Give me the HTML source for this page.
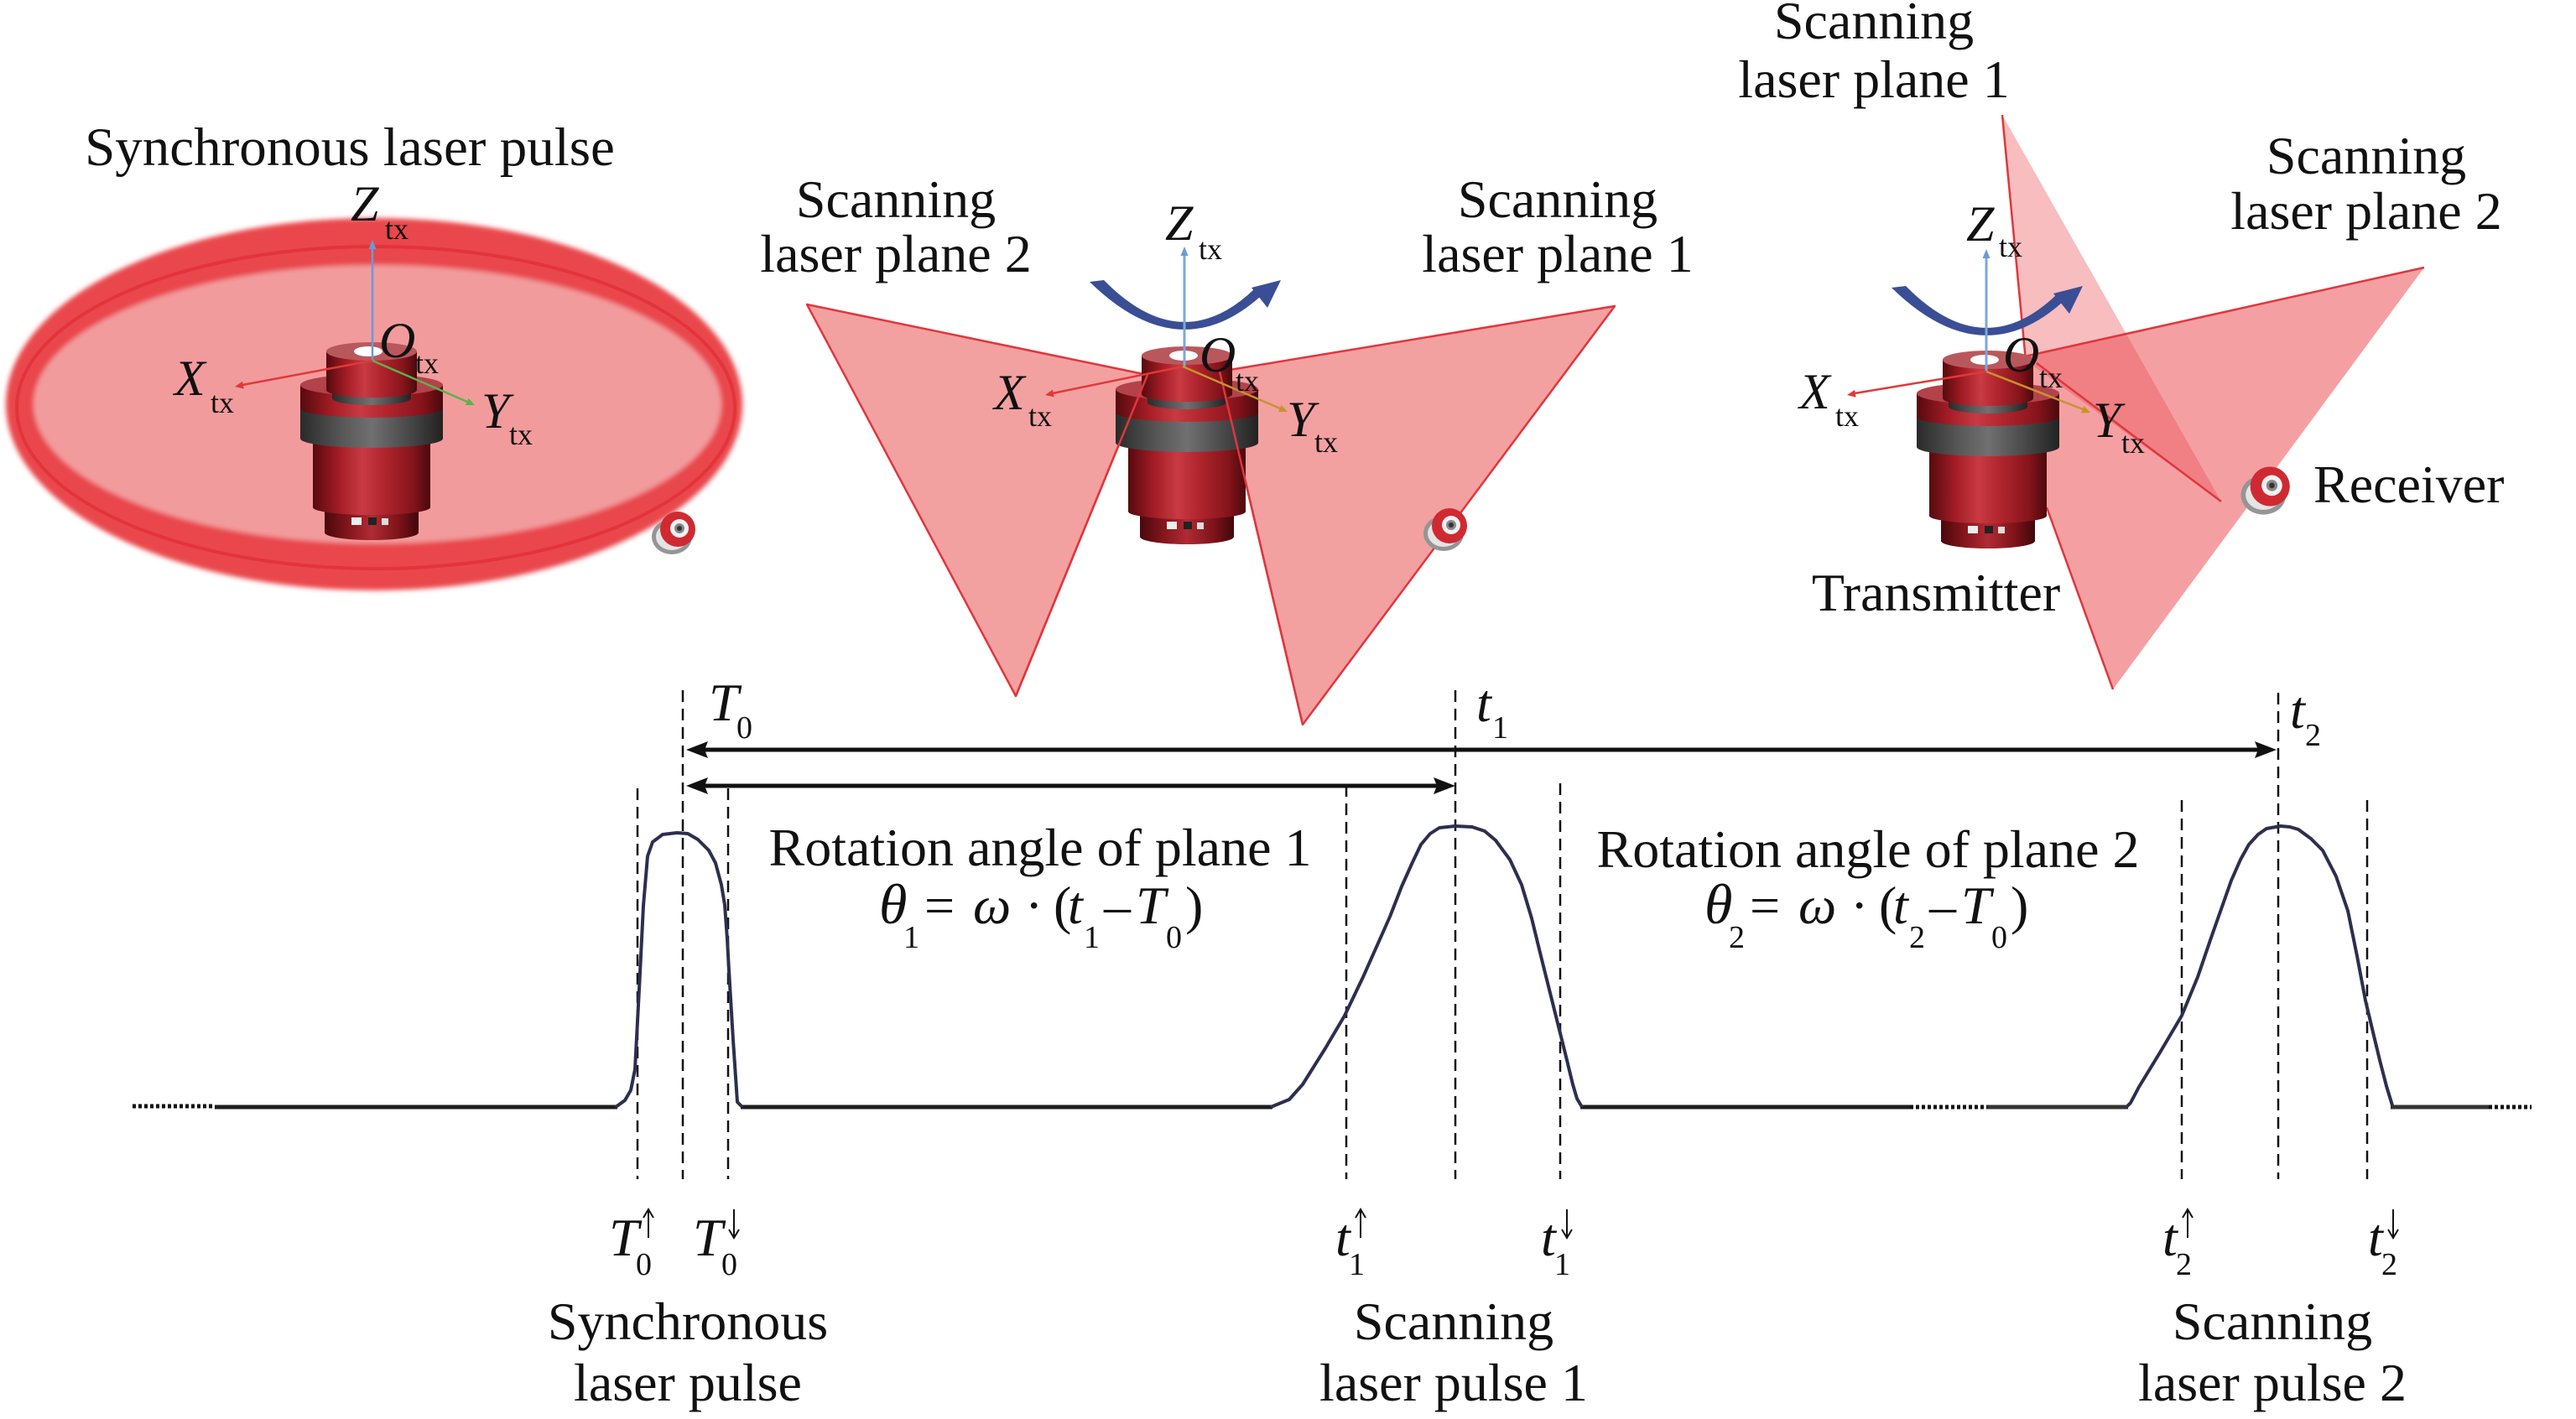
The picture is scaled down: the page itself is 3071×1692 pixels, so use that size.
<!DOCTYPE html>
<html>
<head>
<meta charset="utf-8">
<style>
html,body{margin:0;padding:0;background:#fff;overflow:hidden;}
svg{display:block;}
text{font-family:"Liberation Serif","DejaVu Serif",serif;fill:#111;}
.it{font-style:italic;}
</style>
</head>
<body>
<svg width="3071" height="1692" viewBox="0 0 3071 1692" xmlns="http://www.w3.org/2000/svg">
<defs>
  <linearGradient id="gr" x1="0" x2="1" y1="0" y2="0">
    <stop offset="0" stop-color="#560a0f"/>
    <stop offset="0.22" stop-color="#a31c25"/>
    <stop offset="0.42" stop-color="#c93a43"/>
    <stop offset="0.6" stop-color="#b2252e"/>
    <stop offset="0.85" stop-color="#86141b"/>
    <stop offset="1" stop-color="#4a090d"/>
  </linearGradient>
  <linearGradient id="gr2" x1="0" x2="1" y1="0" y2="0">
    <stop offset="0" stop-color="#4a080c"/>
    <stop offset="0.3" stop-color="#8e1920"/>
    <stop offset="0.5" stop-color="#b02b33"/>
    <stop offset="0.8" stop-color="#7a1218"/>
    <stop offset="1" stop-color="#40070a"/>
  </linearGradient>
  <linearGradient id="gg" x1="0" x2="1" y1="0" y2="0">
    <stop offset="0" stop-color="#2a2a2a"/>
    <stop offset="0.3" stop-color="#585858"/>
    <stop offset="0.5" stop-color="#707070"/>
    <stop offset="0.75" stop-color="#4a4a4a"/>
    <stop offset="1" stop-color="#222"/>
  </linearGradient>
  <filter id="soft" x="-5%" y="-5%" width="110%" height="110%">
    <feGaussianBlur stdDeviation="3"/>
  </filter>
  <g id="dev">
    <!-- bottom part -->
    <path d="M-56 198 L-56 228 A56 9 0 0 0 56 228 L56 198 Z" fill="url(#gr2)"/>
    <rect x="-24" y="210" width="12" height="9" fill="#eee"/>
    <rect x="-4" y="210" width="10" height="9" fill="#222"/>
    <rect x="12" y="211" width="8" height="8" fill="#ddd"/>
    <!-- lower body -->
    <path d="M-70 116 L-70 198 A70 9 0 0 0 70 198 L70 116 Z" fill="url(#gr)"/>
    <!-- flange gray band -->
    <path d="M-85 78 L-85 116 A85 11 0 0 0 85 116 L85 78 Z" fill="url(#gg)"/>
    <!-- flange red side -->
    <path d="M-85 52 L-85 80 A85 11 0 0 0 85 80 L85 52 Z" fill="url(#gr)"/>
    <ellipse cx="0" cy="52" rx="85" ry="13" fill="#b3424a"/>
    <!-- neck -->
    <path d="M-47 50 L-47 68 A47 8 0 0 0 47 68 L47 50 Z" fill="url(#gg)"/>
    <!-- cap -->
    <path d="M-54 12 L-54 58 A54 9 0 0 0 54 58 L54 12 Z" fill="url(#gr)"/>
    <ellipse cx="0" cy="12" rx="54" ry="11" fill="#b9585c"/>
    <ellipse cx="-4" cy="12" rx="17" ry="6" fill="#fff"/>
  </g>
  <g id="rcv">
    <ellipse cx="-5" cy="9" rx="24" ry="21" fill="#959595"/>
    <ellipse cx="-5" cy="9" rx="19" ry="16" fill="#e4e4e4"/>
    <circle cx="2" cy="0" r="21" fill="#cf2a32"/>
    <circle cx="4" cy="-1" r="11" fill="#f0f0f0"/>
    <circle cx="4" cy="-1" r="6" fill="#888"/>
    <circle cx="4" cy="-1" r="3" fill="#333"/>
  </g>
  <g id="rot">
    <path d="M1299 336 Q1405 440 1502 354 L1495 345 Q1408 428 1316 334 Z" fill="#3a4e96"/>
    <polygon points="1527,334 1492,343 1511,367" fill="#3a4e96"/>
  </g>
</defs>

<!-- ================= LEFT PANEL ================= -->
<g filter="url(#soft)">
  <ellipse cx="446" cy="482" rx="439" ry="222" fill="#e9474c"/>
  <ellipse cx="450" cy="482" rx="410" ry="166" fill="#f29b9d"/>
</g>
<ellipse cx="448" cy="486" rx="428" ry="192" fill="none" stroke="#e3333b" stroke-width="4"/>
<use href="#dev" transform="translate(443,407)"/>
<use href="#rcv" transform="translate(806,631)"/>
<line x1="444" y1="430" x2="444" y2="296" stroke="#6a9ad8" stroke-width="2.5"/>
<polygon points="444,286 439.5,297 448.5,297" fill="#6a9ad8"/>
<line x1="444" y1="430" x2="289" y2="459" stroke="#e23838" stroke-width="2.5"/>
<polygon points="280,461 290.7,463.6 289,454.8" fill="#e23838"/>
<line x1="444" y1="430" x2="557" y2="479" stroke="#5cb34a" stroke-width="2.5"/>
<polygon points="566,483 555,483.1 558.6,474.9" fill="#5cb34a"/>
<text x="417" y="197" font-size="65" text-anchor="middle">Synchronous laser pulse</text>
<text x="418" y="263" font-size="60" class="it">Z</text>
<text x="459" y="285" font-size="36">tx</text>
<text x="452" y="426" font-size="60" class="it">O</text>
<text x="495" y="445" font-size="36">tx</text>
<text x="208" y="471" font-size="60" class="it">X</text>
<text x="251" y="492" font-size="36">tx</text>
<text x="574" y="510" font-size="60" class="it">Y</text>
<text x="607" y="530" font-size="36">tx</text>

<!-- ================= MIDDLE PANEL ================= -->
<polygon points="962,363 1368,447 1211,830" fill="#f3a0a1" stroke="#e0363d" stroke-width="2.5" stroke-linejoin="round"/>
<polygon points="1925,365 1454,443 1553,864" fill="#f3a0a1" stroke="#e0363d" stroke-width="2.5" stroke-linejoin="round"/>
<use href="#rcv" transform="translate(1726,627)"/>
<use href="#dev" transform="translate(1415,412)"/>
<line x1="1368" y1="447" x2="1211" y2="830" stroke="#e0363d" stroke-width="2.5"/>
<line x1="1454" y1="443" x2="1553" y2="864" stroke="#e0363d" stroke-width="2.5"/>
<use href="#rot"/>
<line x1="1412" y1="437" x2="1412" y2="304" stroke="#7ea6da" stroke-width="3"/>
<polygon points="1412,294 1407.5,305 1416.5,305" fill="#6a9ad8"/>
<line x1="1410" y1="437" x2="1255" y2="469" stroke="#e23838" stroke-width="2.5"/>
<polygon points="1246,471 1256.7,473.4 1254.9,464.6" fill="#e23838"/>
<line x1="1410" y1="437" x2="1526" y2="487" stroke="#c8932e" stroke-width="2.5"/>
<polygon points="1535,491 1524,491.1 1527.6,482.9" fill="#c8932e"/>
<text x="1068" y="259" font-size="64" text-anchor="middle">Scanning</text>
<text x="1068" y="324" font-size="64" text-anchor="middle">laser plane 2</text>
<text x="1857" y="259" font-size="64" text-anchor="middle">Scanning</text>
<text x="1857" y="324" font-size="64" text-anchor="middle">laser plane 1</text>
<text x="1389" y="286" font-size="60" class="it">Z</text>
<text x="1429" y="309" font-size="36">tx</text>
<text x="1430" y="443" font-size="60" class="it">O</text>
<text x="1473" y="466" font-size="36">tx</text>
<text x="1185" y="488" font-size="60" class="it">X</text>
<text x="1226" y="508" font-size="36">tx</text>
<text x="1534" y="520" font-size="60" class="it">Y</text>
<text x="1567" y="539" font-size="36">tx</text>

<!-- ================= RIGHT PANEL ================= -->
<polygon points="2378,433 2890,319 2519,822" fill="#e9484d" fill-opacity="0.52"/>
<polygon points="2387,137 2648,598 2415,430" fill="#e9484d" fill-opacity="0.36"/>
<line x1="2378" y1="433" x2="2890" y2="319" stroke="#e0363d" stroke-width="2.5"/>
<line x1="2519" y1="822" x2="2440" y2="605" stroke="#e0363d" stroke-width="2.5"/>
<line x1="2387" y1="137" x2="2415" y2="430" stroke="#e0363d" stroke-width="2.5"/>
<line x1="2428" y1="433" x2="2648" y2="598" stroke="#e0363d" stroke-width="2.5"/>
<use href="#dev" transform="translate(2370,417)"/>
<use href="#rcv" transform="translate(2704,580) scale(1.12)"/>
<use href="#rot" transform="translate(956,7)"/>
<line x1="2368" y1="443" x2="2368" y2="307" stroke="#7ea6da" stroke-width="3"/>
<polygon points="2368,297 2363.5,308 2372.5,308" fill="#6a9ad8"/>
<line x1="2368" y1="443" x2="2211" y2="469" stroke="#e23838" stroke-width="2.5"/>
<polygon points="2202,471 2212.6,473.8 2211.1,464.9" fill="#e23838"/>
<line x1="2368" y1="443" x2="2483" y2="488" stroke="#c8932e" stroke-width="2.5"/>
<polygon points="2492,492 2481,492.5 2484.4,484.1" fill="#c8932e"/>
<text x="2234" y="46" font-size="64" text-anchor="middle">Scanning</text>
<text x="2234" y="116" font-size="64" text-anchor="middle">laser plane 1</text>
<text x="2821" y="207" font-size="64" text-anchor="middle">Scanning</text>
<text x="2821" y="273" font-size="64" text-anchor="middle">laser plane 2</text>
<text x="2758" y="599" font-size="64">Receiver</text>
<text x="2308" y="728" font-size="64" text-anchor="middle">Transmitter</text>
<text x="2344" y="287" font-size="60" class="it">Z</text>
<text x="2383" y="306" font-size="36">tx</text>
<text x="2388" y="443" font-size="60" class="it">O</text>
<text x="2431" y="462" font-size="36">tx</text>
<text x="2145" y="487" font-size="60" class="it">X</text>
<text x="2188" y="508" font-size="36">tx</text>
<text x="2495" y="521" font-size="60" class="it">Y</text>
<text x="2529" y="540" font-size="36">tx</text>

<!-- ================= TIMING DIAGRAM ================= -->
<g stroke="#111" stroke-width="2.5" stroke-dasharray="14 8" fill="none">
  <line x1="760" y1="940" x2="760" y2="1406"/>
  <line x1="814" y1="823" x2="814" y2="1406"/>
  <line x1="868" y1="940" x2="868" y2="1406"/>
  <line x1="1605" y1="936" x2="1605" y2="1406"/>
  <line x1="1735" y1="823" x2="1735" y2="1406"/>
  <line x1="1860" y1="934" x2="1860" y2="1406"/>
  <line x1="2601" y1="954" x2="2601" y2="1406"/>
  <line x1="2716" y1="826" x2="2716" y2="1406"/>
  <line x1="2822" y1="954" x2="2822" y2="1406"/>
</g>
<line x1="830" y1="894" x2="2702" y2="894" stroke="#111" stroke-width="5"/>
<polygon points="818,894 844,884 840,894 844,904" fill="#111"/>
<polygon points="2714,894 2688,884 2692,894 2688,904" fill="#111"/>
<line x1="830" y1="937" x2="1723" y2="937" stroke="#111" stroke-width="5"/>
<polygon points="818,937 844,927 840,937 844,947" fill="#111"/>
<polygon points="1735,937 1709,927 1713,937 1709,947" fill="#111"/>

<g fill="none" stroke-linejoin="round" stroke-linecap="butt">
  <line x1="158" y1="1319" x2="256" y2="1319" stroke="#111" stroke-width="5" stroke-dasharray="4 3"/>
  <line x1="2277" y1="1320" x2="2369" y2="1320" stroke="#111" stroke-width="5" stroke-dasharray="4 3"/>
  <line x1="2967" y1="1320" x2="3018" y2="1320" stroke="#111" stroke-width="5" stroke-dasharray="4 3"/>
  <line x1="256" y1="1320" x2="736" y2="1320" stroke="#1e1e1e" stroke-width="5"/>
  <line x1="883" y1="1320" x2="1517" y2="1320" stroke="#1e1e1e" stroke-width="5"/>
  <line x1="1884" y1="1320" x2="2277" y2="1320" stroke="#1e1e1e" stroke-width="5"/>
  <line x1="2369" y1="1320" x2="2537" y2="1320" stroke="#333" stroke-width="5"/>
  <line x1="2850" y1="1320" x2="2967" y2="1320" stroke="#333" stroke-width="5"/>
  <polyline stroke="#2d2f4f" stroke-width="4" points="734,1320 745,1312 752,1300 757,1275 762,1180 767,1080 772,1021 778,1004 790,995 807,993 820,994 832,1001 845,1014 853,1029 860,1055 864,1079 867,1120 869,1157 874,1240 879,1314 885,1320"/>
  <polyline stroke="#2d2f4f" stroke-width="4" points="1515,1320 1537,1311 1553,1293 1580,1250 1603,1211 1625,1165 1641,1129 1657,1093 1671,1057 1684,1028 1694,1007 1705,994 1716,987 1735,985 1755,986 1770,991 1783,1002 1800,1025 1814,1055 1826,1095 1837,1140 1847,1180 1856,1216 1866,1256 1875,1293 1880,1310 1886,1320"/>
  <polyline stroke="#2d2f4f" stroke-width="4" points="2535,1320 2540,1315 2550,1296 2575,1255 2601,1211 2620,1165 2635,1121 2648,1084 2660,1050 2671,1025 2681,1007 2692,995 2702,988 2719,985 2730,986 2740,989 2755,1000 2769,1014 2785,1045 2799,1086 2810,1140 2820,1193 2830,1235 2837,1264 2845,1295 2852,1318"/>
</g>

<text x="845" y="859" font-size="64" class="it">T</text>
<text x="878" y="880" font-size="38">0</text>
<text x="1760" y="860" font-size="64" class="it">t</text>
<text x="1779" y="880" font-size="38">1</text>
<text x="2730" y="868" font-size="64" class="it">t</text>
<text x="2748" y="889" font-size="38">2</text>

<text x="1240" y="1032" font-size="64" text-anchor="middle">Rotation angle of plane 1</text>
<text x="2227" y="1034" font-size="64" text-anchor="middle">Rotation angle of plane 2</text>
<g font-size="64">
  <text x="1048" y="1101" class="it" font-size="68">θ</text>
  <text x="1077" y="1130" font-size="38">1</text>
  <text x="1102" y="1101">=</text>
  <text x="1160" y="1101" class="it">ω</text>
  <text x="1222" y="1101">·</text>
  <text x="1256" y="1101">(</text>
  <text x="1273" y="1101" class="it">t</text>
  <text x="1292" y="1130" font-size="38">1</text>
  <text x="1316" y="1101">–</text>
  <text x="1354" y="1101" class="it">T</text>
  <text x="1390" y="1130" font-size="38">0</text>
  <text x="1413" y="1101">)</text>

  <text x="2032" y="1101" class="it" font-size="68">θ</text>
  <text x="2061" y="1130" font-size="38">2</text>
  <text x="2086" y="1101">=</text>
  <text x="2144" y="1101" class="it">ω</text>
  <text x="2206" y="1101">·</text>
  <text x="2240" y="1101">(</text>
  <text x="2257" y="1101" class="it">t</text>
  <text x="2276" y="1130" font-size="38">2</text>
  <text x="2300" y="1101">–</text>
  <text x="2338" y="1101" class="it">T</text>
  <text x="2374" y="1130" font-size="38">0</text>
  <text x="2397" y="1101">)</text>
</g>

<g font-size="64">
  <text x="726" y="1497" class="it">T</text>
  <text x="758" y="1520" font-size="38">0</text>
  <text x="826" y="1497" class="it">T</text>
  <text x="860" y="1520" font-size="38">0</text>
  <text x="1592" y="1497" class="it">t</text>
  <text x="1608" y="1520" font-size="38">1</text>
  <text x="1837" y="1497" class="it">t</text>
  <text x="1853" y="1520" font-size="38">1</text>
  <text x="2578" y="1497" class="it">t</text>
  <text x="2594" y="1520" font-size="38">2</text>
  <text x="2823" y="1497" class="it">t</text>
  <text x="2839" y="1520" font-size="38">2</text>
</g>
<g stroke="#111" stroke-width="2" fill="none">
  <path d="M773 1476 V1442 M767 1452 L773 1442 L779 1452"/>
  <path d="M875 1442 V1476 M869 1466 L875 1476 L881 1466"/>
  <path d="M1622 1476 V1442 M1616 1452 L1622 1442 L1628 1452"/>
  <path d="M1868 1442 V1476 M1862 1466 L1868 1476 L1874 1466"/>
  <path d="M2608 1476 V1442 M2602 1452 L2608 1442 L2614 1452"/>
  <path d="M2853 1442 V1476 M2847 1466 L2853 1476 L2859 1466"/>
</g>

<text x="820" y="1597" font-size="64" text-anchor="middle">Synchronous</text>
<text x="820" y="1670" font-size="64" text-anchor="middle">laser pulse</text>
<text x="1733" y="1597" font-size="64" text-anchor="middle">Scanning</text>
<text x="1733" y="1670" font-size="64" text-anchor="middle">laser pulse 1</text>
<text x="2709" y="1597" font-size="64" text-anchor="middle">Scanning</text>
<text x="2709" y="1670" font-size="64" text-anchor="middle">laser pulse 2</text>
</svg>
</body>
</html>
